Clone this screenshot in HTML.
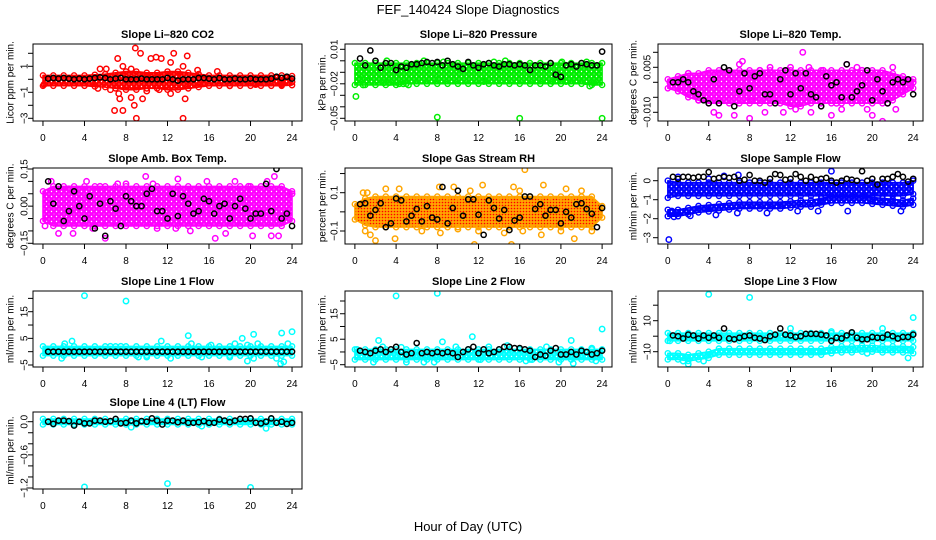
<!DOCTYPE html>
<html><head><meta charset="utf-8"><title>FEF_140424 Slope Diagnostics</title>
<style>
html,body{margin:0;padding:0;background:#fff;}
svg{display:block;font-family:"Liberation Sans",Arial,sans-serif;}
</style></head>
<body>
<svg id="chart" width="936" height="540" viewBox="0 0 936 540" xmlns="http://www.w3.org/2000/svg">
<defs id="defs">
<pattern id="rhpat" width="3" height="3" patternUnits="userSpaceOnUse"><rect width="3" height="3" fill="#ffa500"/><circle cx="1.5" cy="1.5" r="0.8" fill="#ff0000"/></pattern>
</defs>
<text x="468" y="14" text-anchor="middle" font-size="13">FEF_140424  Slope Diagnostics</text>
<text x="468" y="531" text-anchor="middle" font-size="13">Hour of Day (UTC)</text>
</svg>
<script>
// ---- shared data ----
const bandHours = [0,1,2,3,4,5,6,7,8,9,10,11,12,13,14,15,16,17,18,19,20,21,22,23,24];
const xTicks = [0,4,8,12,16,20,24];
const blackHours = [0.5,1,1.5,2,2.5,3,3.5,4,4.5,5,5.5,6,6.5,7,7.5,8,8.5,9,9.5,10,10.5,11,11.5,12,12.5,13,13.5,14,14.5,15,15.5,16,16.5,17,17.5,18,18.5,19,19.5,20,20.5,21,21.5,22,22.5,23,23.5,24];

// ---- panel 1: CO2 ----
const co2BandLow = [-0.5,-0.5,-0.5,-0.5,-0.5,-0.55,-0.6,-0.7,-0.8,-0.8,-0.7,-0.7,-0.8,-0.8,-0.7,-0.6,-0.5,-0.5,-0.5,-0.5,-0.5,-0.5,-0.5,-0.5,-0.45];
const co2BandHigh = [0.3,0.3,0.3,0.3,0.3,0.35,0.4,0.5,0.6,0.6,0.5,0.5,0.6,0.6,0.5,0.4,0.3,0.3,0.3,0.3,0.3,0.3,0.3,0.3,0.25];
const co2Hours = [8.9,9.4,10.4,10.9,11.4,12.6,13.9,7.2,12.3,7.7,8.5,5.5,6.1,14.9,16.8,13.5,6.9,7.7,8.8,9.0,13.5,13.7,9.6,7.4,8.5,12.3,7.3,10.0,11.2,6.5,5.3,14.2,15.5,18.0,20.5,23.0,0.1,24.0];
const co2Vals = [2.4,2.0,1.6,1.7,1.6,2.0,1.8,1.6,1.3,1.0,0.8,0.8,0.8,0.7,0.6,1.0,-2.4,-2.4,-2.0,-3.0,-3.0,-1.5,-1.5,-1.5,-1.4,-1.1,-1.1,-0.9,-0.8,-0.8,-0.7,-0.5,-0.3,-0.5,-0.4,-0.4,-0.4,-0.2];
const co2Black = [0.05,0.1,0.05,0.1,0.05,0,0.05,0,0.05,0.1,0.15,0.1,0,0.05,0.1,0,0,0,0.05,0,0,0,0,0.1,0,-0.1,0,0,0,0.1,0.1,0.05,0,0.1,0,0,0.05,0,0,0.05,0,0,0,0.05,0.2,0.1,0.2,0.05];

// ---- panel 2: Pressure ----
const presBandLow = [-0.021,-0.021,-0.021,-0.021,-0.021,-0.02,-0.02,-0.02,-0.02,-0.02,-0.02,-0.02,-0.02,-0.02,-0.02,-0.02,-0.02,-0.02,-0.02,-0.02,-0.02,-0.02,-0.02,-0.021,-0.021];
const presBandHigh = [-0.002,-0.002,-0.002,-0.002,-0.002,-0.002,-0.002,-0.002,-0.002,-0.002,-0.002,-0.002,-0.002,-0.002,-0.002,-0.002,-0.002,-0.002,-0.002,-0.002,-0.002,-0.002,-0.002,-0.002,-0.002];
const presHours = [0.1,0.5,0.8,1.2,2.8,3.3,4.3,4.7,5.2,8.0,16.0,24.0,3.1,6.7,8.6,12.5,13.5,20.1,22.8,23.2,19.2,20.5,8.1,14.6,10.1,22.5];
const presVals = [-0.031,-0.016,-0.021,-0.017,-0.019,-0.019,-0.020,-0.020,-0.021,-0.049,-0.050,-0.050,0.0,0.0,-0.001,-0.018,-0.001,-0.001,-0.022,-0.019,-0.018,-0.018,-0.016,0.0,-0.007,-0.001];
const presBlack = [0.002,-0.004,0.009,0.0,-0.006,-0.002,-0.002,-0.008,-0.005,-0.006,-0.003,-0.003,-0.002,-0.001,-0.002,-0.001,-0.004,0.0,-0.003,-0.005,-0.007,-0.001,-0.004,-0.006,-0.003,-0.002,-0.004,-0.005,-0.003,-0.003,-0.004,-0.003,-0.004,-0.008,-0.004,-0.004,-0.005,-0.002,-0.012,-0.014,-0.004,-0.003,-0.005,-0.002,-0.003,-0.004,-0.004,0.008];

// ---- panel 3: Li-820 Temp ----
const tempBandLow = [-0.002,-0.003,-0.005,-0.006,-0.007,-0.007,-0.007,-0.007,-0.007,-0.007,-0.007,-0.007,-0.008,-0.008,-0.007,-0.007,-0.007,-0.007,-0.007,-0.007,-0.007,-0.007,-0.006,-0.004,-0.002];
const tempBandHigh = [0.001,0.002,0.003,0.003,0.004,0.004,0.004,0.004,0.004,0.004,0.004,0.004,0.004,0.004,0.004,0.004,0.004,0.004,0.004,0.004,0.004,0.004,0.003,0.002,0.001];
const tempHours = [13.2,7.3,7.0,5.0,4.5,6.5,8.0,9.5,11.3,12.5,14.0,16.0,17.0,19.5,20.0,21.0,22.3,17.5,18.5,22.0,12.0,13.8,15.2,10.0,3.0,8.2,11.7,2.0,21.5,23.0,9.0,16.5,19.0,1.0,0.2,24.0];
const tempVals = [0.010,0.007,0.006,-0.011,-0.010,-0.011,-0.012,-0.010,-0.010,-0.009,-0.010,-0.011,-0.009,-0.009,-0.011,-0.013,-0.009,0.006,0.005,0.005,0.005,0.005,0.004,0.005,-0.006,-0.006,0.004,0.003,-0.007,-0.003,0.004,-0.007,0.004,0.0,0.0,0.0];
const tempBlack = [0,0,0.001,0,-0.003,-0.004,-0.006,-0.007,0.001,-0.007,0.005,0.004,-0.008,-0.003,0.003,-0.002,0.002,0.003,-0.004,-0.004,-0.007,0.001,0.004,-0.004,0.003,-0.002,0.003,-0.004,-0.005,-0.008,0.002,-0.001,0.0,-0.005,0.006,-0.005,-0.003,-0.001,0.004,-0.006,0.001,-0.003,-0.007,0,0.001,0,0.001,-0.004];

// ---- panel 4: Amb. Box Temp ----
const ambBandLow = [-0.06,-0.08,-0.08,-0.08,-0.08,-0.08,-0.08,-0.08,-0.08,-0.08,-0.08,-0.08,-0.08,-0.08,-0.08,-0.08,-0.08,-0.08,-0.08,-0.08,-0.08,-0.08,-0.08,-0.08,-0.06];
const ambBandHigh = [0.06,0.08,0.08,0.08,0.08,0.08,0.08,0.08,0.08,0.08,0.08,0.08,0.08,0.08,0.08,0.08,0.08,0.08,0.08,0.08,0.08,0.08,0.08,0.08,0.06];
const ambHours = [3.5,11.5,21.6,22.3,9.9,13.0,4.2,7.2,18.5,16.6,20.2,22.0,22.7,1.5,2.9,6.0,0.2,11.0,14.2,17.6,12.8,4.8,0.8,5.5,15.8,19.8,24.0,10.6,8.0,2.5];
const ambVals = [-0.18,-0.18,0.10,0.12,0.12,0.11,0.10,0.09,0.10,-0.13,-0.12,-0.12,-0.12,-0.11,-0.11,-0.13,-0.08,-0.09,-0.10,-0.11,-0.09,-0.09,0.10,0.08,0.10,0.08,0.05,0.09,0.09,0.07];
const ambBlack = [0.10,0.01,0.08,-0.06,-0.02,0.06,0.0,-0.05,0.04,-0.09,0.01,-0.12,0.02,-0.01,-0.08,0.04,0.02,0.0,0.0,0.05,0.07,-0.02,-0.02,-0.05,0.05,-0.04,0.04,0.01,-0.03,-0.02,0.03,0.02,-0.03,0.0,0.01,-0.05,0.0,0.03,-0.01,-0.05,-0.03,-0.03,0.09,-0.02,0.15,-0.05,-0.03,-0.08];

// ---- panel 5: Gas Stream RH ----
const rhBandLow = [-0.04,-0.07,-0.08,-0.08,-0.08,-0.08,-0.08,-0.08,-0.08,-0.08,-0.08,-0.08,-0.08,-0.08,-0.08,-0.08,-0.08,-0.08,-0.08,-0.08,-0.08,-0.08,-0.08,-0.08,-0.03];
const rhBandHigh = [0.04,0.07,0.08,0.08,0.08,0.08,0.08,0.08,0.08,0.08,0.08,0.08,0.08,0.08,0.08,0.08,0.08,0.08,0.08,0.08,0.08,0.08,0.08,0.08,0.03];
const rhHours = [16.5,0.8,1.2,3.0,4.3,8.2,9.6,11.2,12.4,15.4,16.0,18.3,20.5,22.0,1.5,2.0,3.9,11.6,15.2,18.1,21.3,1.0,8.3,10.0,12.0,14.5,16.3,20.0,23.0,6.5];
const rhVals = [0.22,0.10,0.10,0.12,0.12,0.13,0.13,0.11,0.14,0.13,0.11,0.14,0.12,0.11,-0.12,-0.15,-0.14,-0.17,-0.17,-0.12,-0.14,-0.10,-0.11,-0.09,-0.10,-0.11,-0.10,-0.10,-0.10,-0.10];
const rhBlack = [0.04,0.045,-0.02,0.01,0.045,-0.08,-0.06,0.07,0.06,-0.05,-0.02,0.015,-0.05,0.03,-0.03,-0.04,0.13,-0.06,0.02,0.11,-0.02,0.065,0.065,-0.015,-0.12,0.06,0.02,-0.035,0.01,-0.095,-0.045,-0.03,0.08,0.08,0.015,0.04,-0.02,0.01,0.01,-0.06,0.0,-0.03,0.04,0.045,0.015,-0.01,-0.08,0.02];

// ---- panel 6: Sample Flow ----
const sfBandLow = [-0.9,-0.8,-0.8,-0.8,-0.8,-0.8,-0.8,-0.8,-0.8,-0.8,-0.8,-0.8,-0.8,-0.8,-0.8,-0.8,-0.8,-0.8,-0.8,-0.8,-0.8,-0.8,-0.8,-0.8,-0.7];
const sfBandHigh = [0,-0.1,-0.1,-0.1,-0.1,-0.1,-0.1,-0.1,-0.1,-0.1,-0.1,-0.1,-0.1,-0.1,-0.1,-0.1,-0.1,-0.1,-0.1,-0.1,-0.1,-0.1,-0.1,-0.1,0];
const sfLowerCenter = [-1.7,-1.7,-1.6,-1.5,-1.45,-1.4,-1.35,-1.3,-1.3,-1.3,-1.3,-1.3,-1.25,-1.2,-1.2,-1.1,-1.0,-1.0,-1.0,-1.0,-1.05,-1.1,-1.15,-1.2,-1.1];
const sfHours = [0.1,0.4,0.6,2.2,4.7,6.8,9.7,12.7,14.7,17.6,22.8,16.0,6.9,5.5,4.0,1.0];
const sfVals = [-3.1,-1.6,-1.9,-1.85,-1.8,-1.7,-1.7,-1.6,-1.6,-1.6,-1.6,0.5,0.3,0.25,0.1,0.2];
const sfBlack = [0.2,0.1,0.2,0.2,0.15,0.2,0.2,0.45,0.1,0.15,0.2,0.15,0.2,0.0,0.05,0.3,0.0,0.0,-0.1,0.1,0.35,0.3,0.05,0.1,0.35,0.2,0.0,0.2,0.05,0.1,0.15,0.0,-0.1,0.0,0.1,0.05,0.0,0.5,0.0,0.1,-0.2,0.1,0.1,0.2,0.35,0.2,-0.05,0.1];

// ---- panel 7: Line 1 Flow ----
const l1BandLow = [-1.5,-1.5,-1.5,-1.5,-1.5,-1.5,-1.5,-1.5,-1.5,-1.5,-1.5,-1.5,-1.5,-1.5,-1.5,-1.5,-1.5,-1.5,-1.5,-1.5,-1.5,-1.5,-1.5,-1.5,-1.5];
const l1BandHigh = [2,2,2,2,2,2,2,2,2,2,2,2,2,2,2,2,2,2,2,2,2,2,2,2,2];
const l1Hours = [4,8,14,20.3,23,24,2.8,19.2,11.4,2.1,19.7,20.7,23.6,19.7,22.9,23.2,1.8,9.2,10.0,12.3,15.3,18.0,20.3,22.5,0.3,7.5,6.5,16.2,14.3,18.5];
const l1Vals = [21,19,6,6.5,7,7.5,4,5,4,3,2.5,3,3,-3.5,-4.5,-3.8,-2.5,-2,-2,-2.5,-2,-2,-2.5,-2.5,1,2,2,2.5,3,3];
const l1Black = [0,0,0,0,0,0,0,0,0,0,0,0,0,0,0,0,0,0,0,0,0,0,0,0,0,0,0,0,0,0,0,0,0,0,0,0,0,0,0,0,0,0,0,0,0,0,0,0];

// ---- panel 8: Line 2 Flow ----
const l2BandLow = [-3,-3,-3,-3,-3,-3,-3,-3,-3,-3,-3,-3,-3,-3,-3,-3,-3,-3,-3,-3,-3,-3,-3,-3,-3];
const l2BandHigh = [1,1,1,1,1,1,1,1,1,1,1,1,1,1,1,1,1,1,1,1,1,1,1,1,1];
const l2Hours = [4,8,24,11.4,2.3,8.5,21,1.8,5,6.7,7.7,19.8,21.2,16.6,23.4,12.2,0.2,2.7,4.5,9.8,13,14.8,18.6,23,7.9,17.2];
const l2Vals = [22,23,9,6,4.5,4,4.5,-4,-4,-4,-4,-4,-4.5,-3.5,-3.5,-3,1,2,1.8,2,2,2.5,2,1.5,0,-3];
const l2Black = [0.5,0,-0.5,0.5,1,0,1,2,0,-1,-0.5,3.5,-0.5,0,-0.5,0,-0.5,0,-0.5,-2,0,1,2,-0.5,1,-0.5,0,1,2,2,1.5,1.5,1,0.5,-2,-1,-1.5,0.5,1.5,-1,-1,0,-1,0.5,0,-1,-0.5,0.5];

// ---- panel 9: Line 3 Flow ----
const l3BandLow = [-3,-3,-3,-3,-3,-3,-3,-3,-3,-3,-3,-3,-3,-3,-3,-3,-3,-3,-3,-3,-3,-3,-3,-3,-3];
const l3BandHigh = [2,2,2,2,2,2,2,2,2,2,2,2,2,2,2,2,2,2,2,2,2,2,2,2,2];
const l3LowerCenter = [-13,-13,-14,-13,-12,-10,-10,-10,-10,-10,-10,-10,-10,-10,-10,-10,-9,-8.5,-8.5,-8,-8,-8.5,-8.5,-8.5,-9];
const l3Hours = [4,8,24,21,12,16,2,1.5,3.5,23.5,19.5,0.2,0.3];
const l3Vals = [27,25,12,5,5,3,-18,-16,-16,-14,-11,-3,0];
const l3Black = [0.5,0,-1.5,1,0.5,-1.5,0.5,-1,0.5,-1,5,-1.5,-2,-1,0,0.5,-1,-1.5,-2.5,0,1,5,1,0.5,-0.5,0,1.5,1.5,1.5,1,0.5,-3,-1,-1.5,0.5,2.5,-1,-2,-2,-0.5,-1,-1,1,0,-1.5,-0.5,-0.5,1];

// ---- panel 10: Line 4 (LT) Flow ----
const l4BandLow = [-0.05,-0.05,-0.05,-0.05,-0.05,-0.05,-0.05,-0.05,-0.05,-0.05,-0.05,-0.05,-0.05,-0.05,-0.05,-0.05,-0.05,-0.05,-0.05,-0.05,-0.05,-0.05,-0.05,-0.05,-0.05];
const l4BandHigh = [0.05,0.05,0.05,0.05,0.05,0.05,0.05,0.05,0.05,0.05,0.05,0.05,0.05,0.05,0.05,0.05,0.05,0.05,0.05,0.05,0.05,0.05,0.05,0.05,0.05];
const l4Hours = [4,12,20,21.5,8.5,15.3,3.0,0.3,24];
const l4Vals = [-1.18,-1.12,-1.19,-0.12,-0.1,-0.08,-0.06,0,0];
const l4Black = [0,-0.04,0.02,0.02,0.01,-0.07,0.0,-0.03,-0.03,0.02,0.02,0.0,0.01,0.05,-0.03,-0.02,0.02,-0.03,0.01,0.0,0.06,0.02,-0.05,0.02,0.02,-0.01,0.02,-0.02,-0.02,-0.01,0.01,-0.02,-0.02,0.04,0.02,-0.01,0.02,0.05,0.05,0.06,-0.02,-0.03,0.0,0.06,-0.02,0.0,-0.04,-0.02];

// ---- panel tick values ----
const co2Ticks=[-3,-2,-1,0,1,2], co2Labels=[-3,-1,1];
const presTicks=[0.01,0,-0.01,-0.02,-0.03,-0.04,-0.05], presLabels=[0.01,-0.02,-0.05];
const tempTicks=[0.01,0.005,0,-0.005,-0.01], tempLabels=[0.005,-0.010];
const ambTicks=[0.15,0.1,0.05,0,-0.05,-0.1,-0.15], ambLabels=[0.15,0.00,-0.15];
const rhTicks=[0.2,0.1,0,-0.1], rhLabels=[0.1,-0.1];
const sfTicks=[0,-1,-2,-3], sfLabels=[0,-1,-2,-3];
const l1Ticks=[20,15,10,5,0,-5], l1Labels=[15,5,-5];
const l2Ticks=[20,15,10,5,0,-5], l2Labels=[15,5,-5];
const l3Ticks=[20,10,0,-10], l3Labels=[10,-10];
const l4Ticks=[0,-0.2,-0.4,-0.6,-0.8,-1.0,-1.2], l4Labels=[0.0,-0.6,-1.2];

const NS='http://www.w3.org/2000/svg';
const svg=document.getElementById('chart');
const defs=document.getElementById('defs');
function mk(tag,attrs,parent){const e=document.createElementNS(NS,tag);for(const k in attrs)e.setAttribute(k,attrs[k]);(parent||svg).appendChild(e);return e;}

// textured fill patterns (rings of colour with white specks)
const patCache={};
function texture(color){
  if(patCache[color])return patCache[color];
  const id='tex'+color.replace('#','');
  const pt=mk('pattern',{id:id,width:5,height:5,patternUnits:'userSpaceOnUse'},defs);
  mk('rect',{width:5,height:5,fill:color},pt);
  mk('circle',{cx:1.5,cy:1.5,r:0.7,fill:'#fff'},pt);
  mk('circle',{cx:4,cy:4,r:0.5,fill:'#fff','fill-opacity':0.7},pt);
  patCache[color]='url(#'+id+')';
  return patCache[color];
}

const cols=[{l:33,r:302,lab:24,ttl:10},{l:345,r:612,lab:334,ttl:322},{l:658,r:923,lab:647,ttl:633}];
const rows=[{t:44,b:121},{t:168,b:244},{t:291,b:367},{t:412,b:489}];

function fmt(v,dec){return (v<0?'\u2212':'')+Math.abs(v).toFixed(dec);}

const panels=[
 {key:'co2',title:'Slope Li\u2013820 CO2',ylab:'Licor ppm per min.',c:0,r:0,color:'#ff0000',ref:[1,66.3,-3,118.3],lo:co2BandLow,hi:co2BandHigh,hx:co2Hours,hv:co2Vals,bk:co2Black,ticks:co2Ticks,labels:co2Labels,dec:0},
 {key:'pressure',title:'Slope Li\u2013820 Pressure',ylab:'kPa per min.',c:1,r:0,color:'#00ee00',ref:[0.01,49.3,-0.05,118.3],lo:presBandLow,hi:presBandHigh,hx:presHours,hv:presVals,bk:presBlack,ticks:presTicks,labels:presLabels,dec:2},
 {key:'li820-temp',title:'Slope Li\u2013820 Temp.',ylab:'degrees C per min.',c:2,r:0,color:'#ff00ff',ref:[0.005,67.3,-0.01,112.3],lo:tempBandLow,hi:tempBandHigh,hx:tempHours,hv:tempVals,bk:tempBlack,ticks:tempTicks,labels:tempLabels,dec:3},
 {key:'amb-box-temp',title:'Slope Amb. Box Temp.',ylab:'degrees C per min.',c:0,r:1,color:'#ff00ff',ref:[0.15,169,-0.15,243.3],lo:ambBandLow,hi:ambBandHigh,hx:ambHours,hv:ambVals,bk:ambBlack,ticks:ambTicks,labels:ambLabels,dec:2},
 {key:'gas-stream-rh',title:'Slope Gas Stream RH',ylab:'percent per min.',c:1,r:1,color:'#ffa500',fill:'url(#rhpat)',ref:[0.1,192.7,-0.1,231],lo:rhBandLow,hi:rhBandHigh,hx:rhHours,hv:rhVals,bk:rhBlack,ticks:rhTicks,labels:rhLabels,dec:1},
 {key:'sample-flow',title:'Slope Sample Flow',ylab:'ml/min per min.',c:2,r:1,color:'#0000ff',ref:[0,180.7,-3,237.7],lo:sfBandLow,hi:sfBandHigh,lower:sfLowerCenter,lowerW:0.17,hx:sfHours,hv:sfVals,bk:sfBlack,ticks:sfTicks,labels:sfLabels,dec:0},
 {key:'line1-flow',title:'Slope Line 1 Flow',ylab:'ml/min per min.',c:0,r:2,color:'#00ffff',ref:[15,311.7,-5,365],lo:l1BandLow,hi:l1BandHigh,hx:l1Hours,hv:l1Vals,bk:l1Black,ticks:l1Ticks,labels:l1Labels,dec:0},
 {key:'line2-flow',title:'Slope Line 2 Flow',ylab:'ml/min per min.',c:1,r:2,color:'#00ffff',ref:[20,301,-5,364.7],lo:l2BandLow,hi:l2BandHigh,hx:l2Hours,hv:l2Vals,bk:l2Black,ticks:l2Ticks,labels:l2Labels,dec:0},
 {key:'line3-flow',title:'Slope Line 3 Flow',ylab:'ml/min per min.',c:2,r:2,color:'#00ffff',ref:[10,320.7,-10,351.7],lo:l3BandLow,hi:l3BandHigh,lower:l3LowerCenter,lowerW:2,hx:l3Hours,hv:l3Vals,bk:l3Black,ticks:l3Ticks,labels:l3Labels,dec:0},
 {key:'line4-flow',title:'Slope Line 4 (LT) Flow',ylab:'ml/min per min.',c:0,r:3,color:'#00ffff',ref:[0,421.7,-1.2,488],lo:l4BandLow,hi:l4BandHigh,hx:l4Hours,hv:l4Vals,bk:l4Black,ticks:l4Ticks,labels:l4Labels,dec:1}
];

panels.forEach(p=>{
  const C=cols[p.c],R=rows[p.r];
  const x=h=>C.l+(h+0.96)/25.92*(C.r-C.l);
  const y=v=>p.ref[1]+(v-p.ref[0])*(p.ref[3]-p.ref[1])/(p.ref[2]-p.ref[0]);
  const g=mk('g',{});
  
  
  const cp=mk('clipPath',{id:'clip-'+p.key},g);
  mk('rect',{x:C.l,y:R.t,width:C.r-C.l,height:R.b-R.t},cp);
  const plot=mk('g',{'clip-path':'url(#clip-'+p.key+')'},g);
  
  
  const fill=p.fill||texture(p.color);
  function band(lowArr,highArr,name){
    let pts=bandHours.map((h,i)=>x(h)+','+y(highArr[i]));
    for(let i=bandHours.length-1;i>=0;i--)pts.push(x(bandHours[i])+','+y(lowArr[i]));
    const poly=mk('polygon',{points:pts.join(' '),fill:fill,stroke:p.color,'stroke-width':1.5,'stroke-linejoin':'round'},plot);
    
    
    bandHours.forEach((h,i)=>{
      [lowArr[i],highArr[i]].forEach(v=>{
        const c=mk('circle',{cx:x(h),cy:y(v),r:2.6,fill:'none',stroke:p.color,'stroke-width':1.4},plot);
        
        
      });
    });
  }
  band(p.lo,p.hi,'dense-band-'+p.key);
  if(p.lower){
    band(p.lower.map(v=>v-p.lowerW),p.lower.map(v=>v+p.lowerW),'lower-band-'+p.key);
  }
  p.hx.forEach((h,i)=>{
    const c=mk('circle',{cx:x(h),cy:y(p.hv[i]),r:2.7,fill:'none',stroke:p.color,'stroke-width':1.5},plot);
    
    
  });
  const n=Math.min(blackHours.length,p.bk.length);
  for(let i=0;i<n;i++){
    const c=mk('circle',{cx:x(blackHours[i]),cy:y(p.bk[i]),r:2.6,fill:'none',stroke:'#000','stroke-width':1.5},plot);
    
    
  }
  const box=mk('rect',{x:C.l,y:R.t,width:C.r-C.l,height:R.b-R.t,fill:'none',stroke:'#000','stroke-width':1},g);
  
  
  const t=mk('text',{x:(C.l+C.r)/2,y:R.t-6,'text-anchor':'middle','font-size':11,'font-weight':'bold'},g);
  t.textContent=p.title;
  
  
  const xa=mk('g',{},g);
  
  
  mk('line',{x1:x(0),x2:x(24),y1:R.b,y2:R.b,stroke:'#000'},xa);
  xTicks.forEach(v=>{
    mk('line',{x1:x(v),x2:x(v),y1:R.b,y2:R.b+5,stroke:'#000'},xa);
    const tl=mk('text',{x:x(v),y:R.b+20,'text-anchor':'middle','font-size':10},xa);
    tl.textContent=String(v);
    
    
  });
  const ya=mk('g',{},g);
  
  
  mk('line',{x1:C.l,x2:C.l,y1:y(p.ticks[0]),y2:y(p.ticks[p.ticks.length-1]),stroke:'#000'},ya);
  p.ticks.forEach(v=>{mk('line',{x1:C.l-5,x2:C.l,y1:y(v),y2:y(v),stroke:'#000'},ya);});
  p.labels.forEach(v=>{
    const yy=y(v);
    const tl=mk('text',{x:C.lab,y:yy,'text-anchor':'middle','font-size':10,transform:'rotate(-90 '+C.lab+' '+yy+')',dy:'0.35em'},ya);
    tl.textContent=fmt(v,p.dec);
    
    
  });
  const ym=(R.t+R.b)/2;
  const yt=mk('text',{x:C.ttl,y:ym,'text-anchor':'middle','font-size':10,transform:'rotate(-90 '+C.ttl+' '+ym+')',dy:'0.35em'},g);
  yt.textContent=p.ylab;
  
  
});
</script>
</body></html>
